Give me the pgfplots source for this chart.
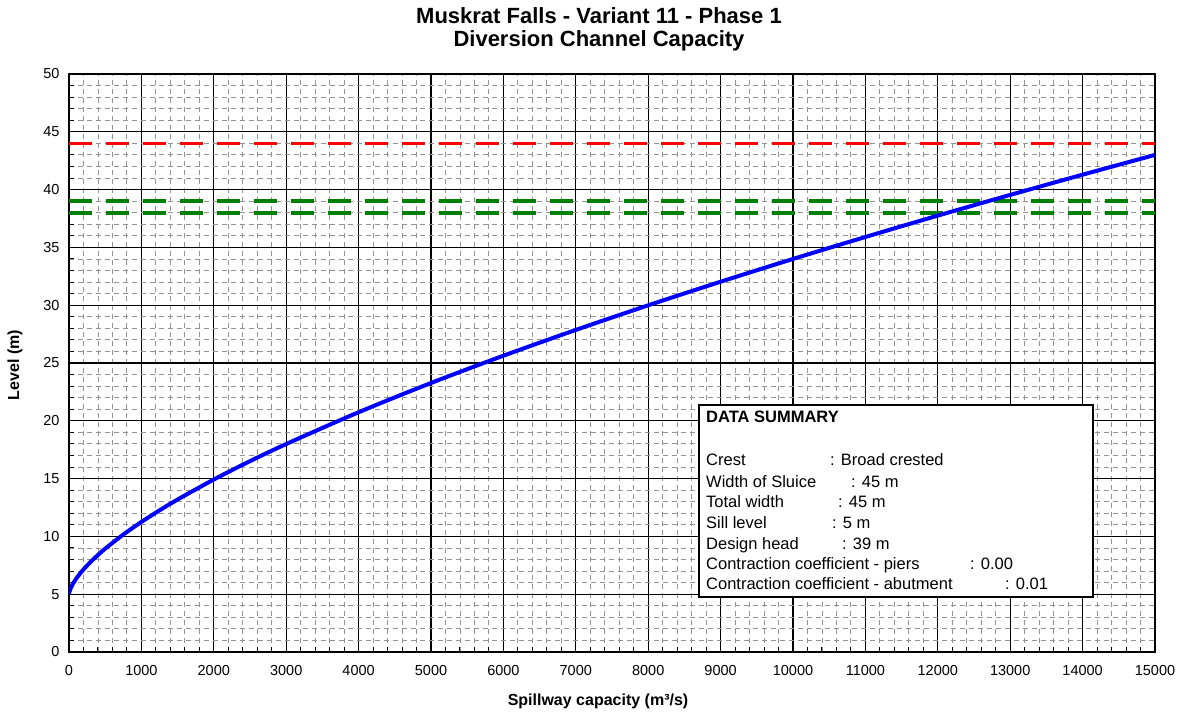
\documentclass[border=0pt]{standalone}
\usepackage{pgfplots}
\pgfplotsset{compat=1.18}
\usepackage{fontspec}
\setmainfont{Liberation Sans}
\begin{document}
\begin{tikzpicture}
\useasboundingbox (-69pt,-63pt) rectangle (1113pt,652pt);
\begin{axis}[
 at={(0pt,0pt)}, anchor=south west,
 scale only axis, width=1086pt, height=578pt,
 xmin=0, xmax=15000, ymin=0, ymax=50,
 xtick={0,1000,...,15000}, ytick={0,5,...,50},
 minor x tick num=4, minor y tick num=4,
 grid=both,
 major grid style={black, line width=1.1pt},
 minor grid style={gray!85, line width=0.9pt, dash pattern=on 5pt off 4pt},
 tick align=inside, xtick pos=left, ytick pos=left,
 major tick length=0pt, minor tick length=5pt,
 tick style={black, line width=1pt},
 axis line style={black, line width=1.5pt},
 ticklabel style={font=\fontsize{14.5}{16}\selectfont},
 /pgf/number format/assume math mode=true,
 scaled x ticks=false,
 xticklabel style={/pgf/number format/1000 sep={}, yshift=-10pt},
 yticklabel style={xshift=-6pt},
]
\addplot[green!50!black, line width=4.2pt, dash pattern=on 23pt off 14pt] coordinates {(0,39) (15000,39)};
\addplot[green!50!black, line width=4.2pt, dash pattern=on 23pt off 14pt] coordinates {(0,38) (15000,38)};
\addplot[red, line width=2.5pt, dash pattern=on 23pt off 14pt] coordinates {(0,44) (15000,44)};
\addplot[blue, line width=4pt, smooth] coordinates {
(0,5.00) (5,5.18) (10,5.29) (25,5.53) (50,5.85) (100,6.35) (150,6.76) (200,7.14)
(300,7.80) (400,8.39) (500,8.94) (750,10.16) (1000,11.25) (1250,12.25)
(1500,13.19) (2000,14.92) (2500,16.51) (3000,17.99) (4000,20.74) (5000,23.27)
(6000,25.63) (7000,27.86) (8000,29.99) (9000,32.03) (10000,34.00) (11000,35.90)
(12000,37.75) (13000,39.54) (14000,41.29) (15000,43.00)};
\end{axis}
% data summary box
\draw[fill=white, line width=1.2pt] (630pt,55pt) rectangle (1024pt,247pt);
\begin{scope}[every node/.style={anchor=base west, inner sep=0pt, font=\fontsize{16.5}{19}\selectfont}]
\node[font=\fontsize{16.5}{19}\selectfont\bfseries] at (637pt,229pt) {DATA SUMMARY};
\node at (637pt,186pt) {Crest};
\node at (761pt,186pt) {: Broad crested};
\node at (637pt,165pt) {Width of Sluice};
\node at (782pt,165pt) {: 45 m};
\node at (637pt,145pt) {Total width};
\node at (769pt,145pt) {: 45 m};
\node at (637pt,124pt) {Sill level};
\node at (763pt,124pt) {: 5 m};
\node at (637pt,103pt) {Design head};
\node at (773pt,103pt) {: 39 m};
\node at (637pt,83pt) {Contraction coefficient - piers};
\node at (901pt,83pt) {: 0.00};
\node at (637pt,63pt) {Contraction coefficient - abutment};
\node at (936pt,63pt) {: 0.01};
\end{scope}
% titles and labels
\node[anchor=base, font=\fontsize{22}{24}\selectfont\bfseries] at (530pt,628pt) {Muskrat Falls - Variant 11 - Phase 1};
\node[anchor=base, font=\fontsize{22}{24}\selectfont\bfseries] at (530pt,605pt) {Diversion Channel Capacity};
\node[anchor=base, font=\fontsize{16}{18}\selectfont\bfseries] at (529pt,-53pt) {Spillway capacity (m³/s)};
\node[rotate=90, font=\fontsize{16}{18}\selectfont\bfseries] at (-54pt,287pt) {Level (m)};
\end{tikzpicture}
\end{document}
